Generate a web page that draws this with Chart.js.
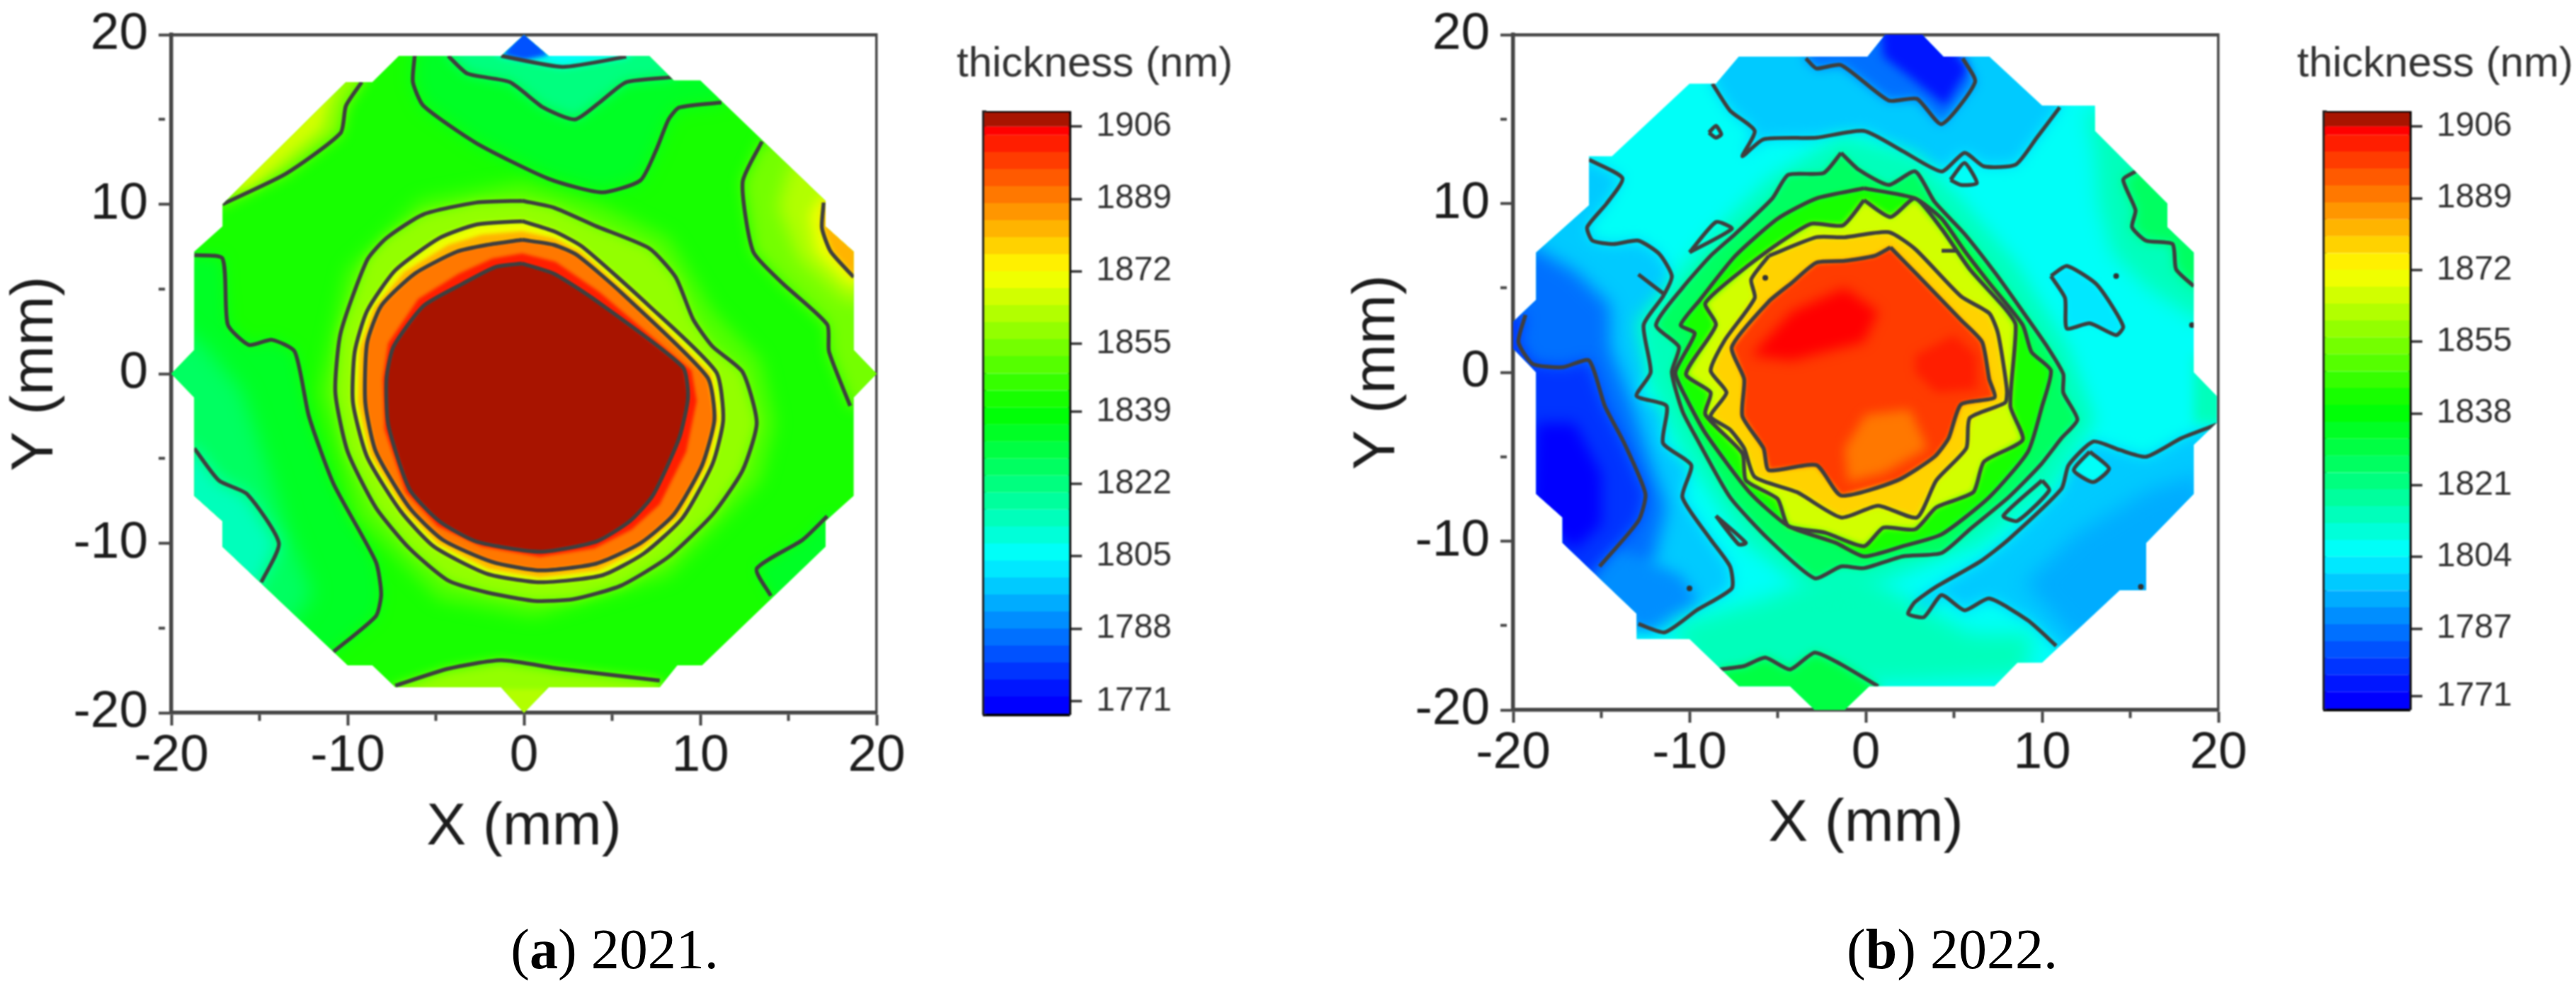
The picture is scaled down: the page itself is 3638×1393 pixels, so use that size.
<!DOCTYPE html>
<html>
<head>
<meta charset="utf-8">
<title>Film thickness maps 2021 and 2022</title>
<script src="https://cdn.jsdelivr.net/npm/chart.js@4/dist/chart.umd.min.js"></script>
<style>
    html, body { margin: 0; padding: 0; background: #fff; overflow: hidden; width: 3638px; height: 1393px; }
    canvas { position: absolute; filter: blur(1px); }
    .caption { position: absolute; top: 1296px; font: 80px "Liberation Serif", serif; color: #000; white-space: nowrap; transform: translateX(-50%); filter: blur(0.4px); }
</style>
</head>
<body>
<canvas id="mapA" width="1300" height="1240" style="left:0;top:0"></canvas>
<canvas id="barA" width="412" height="970" style="left:1340px;top:50px"></canvas>
<canvas id="mapB" width="1300" height="1240" style="left:1895px;top:0"></canvas>
<canvas id="barB" width="412" height="963" style="left:3233px;top:50px"></canvas>
<div class="caption" style="left:868px">(<b>a</b>) 2021.</div>
<div class="caption" style="left:2757px">(<b>b</b>) 2022.</div>

<script>
// colour scale
const levelFloors = [1768, 1772, 1776, 1780, 1784, 1788, 1792, 1796, 1800, 1804, 1808, 1812, 1816, 1820, 1824, 1828, 1832, 1836,
    1840, 1844, 1848, 1852, 1856, 1860, 1864, 1868, 1872, 1876, 1880, 1884, 1888, 1892, 1896, 1900, 1904, 1906];
const levelColors = ['#0000ff', '#0016ff', '#0034ff', '#0052ff', '#0070ff', '#008eff', '#00acff', '#00caff', '#00e8ff', '#00fff8',
    '#00ffd9', '#00ffbb', '#00ff9d', '#00ff7f', '#00ff61', '#00ff43', '#00ff25', '#00ff07',
    '#17ff00', '#36ff00', '#55ff00', '#74ff00', '#93ff00', '#b2ff00', '#d1ff00', '#f0ff00',
    '#fff000', '#ffd200', '#ffb400', '#ff9600', '#ff7800', '#ff5a00', '#ff3c00', '#ff1e00', '#ff0000', '#a81400'];
const levelTop = 1910;
const ticksA = [1771, 1788, 1805, 1822, 1839, 1855, 1872, 1889, 1906];
const ticksB = [1771, 1787, 1804, 1821, 1838, 1855, 1872, 1889, 1906];

// 2021 map, everything in mm
const aOutline = [[0,20],[-1.3,18.75],[-7.1,18.75],[-8.6,17.2],[-10.1,17.2],[-17.1,10],[-17.1,8.7],[-18.7,7.2],[-18.7,1.4],[-20,0],[-18.7,-1.4],[-18.7,-7.2],[-17.1,-8.7],[-17.1,-10.2],[-10,-17.2],[-8.6,-17.2],[-7.3,-18.5],[-1.3,-18.5],[0,-20],[1.4,-18.5],[7.7,-18.5],[8.7,-17.2],[10.1,-17.2],[17.1,-10.2],[17.1,-8.7],[18.7,-7.2],[18.7,-1.4],[20,0],[18.7,1.4],[18.7,7.2],[17.1,8.7],[17.1,10.2],[10,17.3],[8.5,17.3],[7.1,18.75],[1.4,18.75]];
const aTopLine1 = [[-6.2,18.75],[-6.3,17.2],[-5.7,15.8],[-2.7,13.6],[1.4,11.5],[4.4,10.7],[6.6,11.4],[7.5,13.2],[8.2,15],[8.8,15.7],[11.2,16]];
const aTopLine2 = [[-4.3,18.75],[-3.2,17.7],[-0.8,17.2],[1.1,15.7],[2.9,15],[4.4,16.1],[5.8,17.2],[8.5,17.5]];
const aTopLine3 = [[-1.3,18.75],[2.2,18.1],[5.8,18.7]];
const aTopTip = [[-1.2,18.8],[0,20.6],[1.4,18.8],[0,18.5]];
const aLowerLeftLine = [[-18.7,-4.4],[-17.3,-6.3],[-15.7,-7.1],[-13.9,-10],[-14.9,-12.3]];
const aLeftLine = [[-18.7,7],[-17.1,6.8],[-16.8,2.9],[-15.6,1.7],[-14.3,2],[-13,1.3],[-12.2,-2.5],[-10.8,-6.5],[-8.4,-11.1],[-8.1,-13],[-8.4,-14.3],[-10.8,-16.4]];
const aLeftDeep = [[-21,4],[-18,1.5],[-16,-1],[-15,-4],[-13.5,-9],[-12,-13],[-14,-16],[-21,-10]];
const aUpperLeftLine = [[-17.1,10],[-13.5,11.8],[-10.4,14.2],[-10.1,15.8],[-9.2,17.2]];
const aUpperLeftEdge = [[-18,10.5],[-15.5,11],[-11.5,14.5],[-10.5,18],[-12,18]];
const aRightLine1 = [[13.5,13.7],[12.4,11.3],[13,7.2],[14.7,5.3],[17.2,2.9],[17.3,1.3],[18.5,-1.9]];
const aRightInner = [[15.2,12.5],[14.4,9.9],[15.6,6.8],[18.3,4.3],[22,4.3],[22,12.5]];
const aRightEdge = [[16.9,10.5],[16.2,9.4],[16.6,7.2],[18.4,5.3],[22,5.3],[22,10.5]];
const aRightLine2 = [[17,10.1],[16.9,8.6],[17.4,7.2],[18.7,5.7]];
const aBottomLine = [[-7.3,-18.4],[-4.3,-17.4],[-1.3,-16.9],[2,-17.4],[7.7,-18.1]];
const aBottomTip = [[-1.3,-18.6],[1.3,-18.6],[0,-21]];
const aLowerRightLine = [[17.2,-8.4],[15.8,-9.8],[13.2,-11.5],[14,-13.1]];
const aHalo = [[-0.1,11.3],[4.4,9.9],[8.2,8],[10.7,3.7],[13.4,0.8],[14.2,-2.9],[13.4,-6.3],[8.2,-11.9],[0.6,-14.3],[-4.8,-13.3],[-9.5,-8.4],[-11.6,-1.1],[-10,6.1],[-5.9,10.2]];
const aRing1 = [[-0.1,10.2],[1.7,9.8],[4.1,8.7],[7.1,7.4],[8.6,5.7],[9.6,3.2],[10.7,1.6],[12.4,0.1],[13.2,-2.9],[12.4,-5.7],[10.7,-8.3],[8.2,-10.8],[5.5,-12.5],[2.8,-13.3],[0.6,-13.4],[-2.1,-12.9],[-4.3,-12.2],[-6.5,-10.3],[-8.4,-7.9],[-10,-4.6],[-10.7,-1.1],[-10.4,2.4],[-8.9,6.7],[-7.8,8],[-5.7,9.4],[-2.7,10.1]];
const aRing2 = [[-0.1,9],[1.7,8.4],[3.3,7.5],[7.1,4],[10.9,0.1],[11.3,-2.7],[10.7,-5.3],[9,-8.5],[6.8,-10.6],[4.4,-11.9],[0.9,-12.3],[-2.1,-11.8],[-5.1,-10.2],[-7,-8.1],[-8.9,-4.9],[-9.7,-1.7],[-9.6,1.3],[-8.9,3.7],[-7.3,6.1],[-4.8,8],[-2.7,8.8]];
const aOrangeBand = [[-0.1,8.4],[1.7,8],[3.2,7.2],[6.3,4.4],[10.6,0],[11,-2.7],[10.4,-5.3],[8.8,-8.4],[6.7,-10.3],[4.2,-11.6],[0.9,-12],[-2,-11.5],[-4.9,-10],[-6.8,-8],[-8.7,-4.8],[-9.4,-1.7],[-9.3,1.5],[-8.5,3.9],[-6.8,6],[-4.3,7.6],[-2.4,8.2]];
const aRing3 = [[-0.1,7.9],[1.7,7.6],[3,7],[5.5,4.8],[10.4,-0.2],[10.8,-2.7],[10.1,-5.4],[8.5,-8.3],[6.6,-10],[4.1,-11.2],[0.9,-11.6],[-1.8,-11.1],[-4.6,-9.8],[-6.5,-7.9],[-8.4,-4.6],[-9,-1.7],[-8.9,1.8],[-8.1,4],[-6.2,5.9],[-3.8,7.2],[-2.1,7.6]];
const aRedBand = [[-0.1,7.1],[1.8,6.6],[4.3,4.8],[9.5,0.2],[9.8,-1.6],[9.2,-4.6],[7.7,-7.7],[6.1,-9.2],[4,-10.3],[0.9,-10.8],[-2.4,-10.2],[-4.9,-9],[-6.7,-7],[-7.9,-3.3],[-8,-0.3],[-7.7,1.8],[-6,4.4],[-3.7,5.9],[-1.8,6.8]];
const aCore = [[-0.1,6.5],[1.7,5.9],[4.1,4.3],[9,0.4],[9.3,-1.4],[8.8,-3.8],[7.3,-7.2],[6,-8.7],[4.1,-9.9],[0.9,-10.5],[-2.7,-9.9],[-4.8,-8.7],[-6.5,-6.8],[-7.7,-3],[-7.8,-0.3],[-7.4,1.6],[-5.7,4],[-3.5,5.3],[-1.6,6.3]];

// 2022 map, everything in mm
const bOutline = [[1.1,20],[3.2,20],[4.4,18.7],[7,18.7],[10,15.8],[13,15.8],[13,14.3],[17.1,10],[17.1,8.6],[18.6,7.1],[18.6,0],[19.9,-1.4],[19.9,-3],[18.6,-4.3],[18.6,-7.2],[15.9,-10.1],[15.9,-12.9],[14.4,-12.9],[10,-17.2],[8.6,-17.2],[7.3,-18.6],[0.2,-18.6],[-1.2,-20],[-2.9,-20],[-4.3,-18.6],[-7.2,-18.6],[-10,-15.8],[-13,-15.8],[-13,-14.3],[-17.2,-10.1],[-17.2,-8.6],[-18.7,-7.2],[-18.7,0],[-20,1.4],[-20,3],[-18.7,4.3],[-18.7,7.1],[-15.7,9.9],[-15.7,12.8],[-14.4,12.8],[-10,17.1],[-8.5,17.1],[-7.2,18.7],[0.1,18.7]];
const bTopLine = [[-8.7,17.1],[-7.7,15.5],[-6.3,14.3],[-7,12.8],[-5.8,13.8],[-2.8,13.9],[-0.1,14.3],[2.1,13.1],[4.3,11.9],[5.6,13],[6.7,12.2],[8.5,12.3],[9.7,13.9],[11,15.7]];
const bTopInnerLine = [[-3.4,18.6],[-2.8,18],[-1.4,18.2],[1.3,16.1],[2.9,16.2],[4.3,14.7],[6.2,17.2],[5.5,18.6]];
const bTopCore = [[0.8,21],[3.5,21],[5.8,18],[4.5,15.8],[2.5,17.5],[1,18.7]];
const bLeftLine = [[-15.7,12.6],[-13.8,11.5],[-14.7,10],[-15.8,8.6],[-15.5,7.8],[-14.3,7.6],[-12.9,7.8],[-11.7,7],[-11,5.7],[-11.5,4.5],[-12.6,2.8],[-12.2,0],[-13,-1.4],[-11.3,-2],[-11.5,-4.2],[-9.9,-5.5],[-10.4,-7.4],[-8.8,-9.9],[-7.7,-11.5],[-7.6,-12.8],[-9.6,-14.1],[-11.4,-15.4],[-12.9,-14.9]];
const bLeftMid = [[-19,7.5],[-16.5,6],[-14.5,4],[-14.5,1.5],[-13.2,-2],[-12.3,-5],[-11.3,-8],[-12,-11],[-14,-13.5],[-16,-13],[-22,-8],[-22,7]];
const bLowerLeft = [[-15,-10],[-10.5,-12],[-9.5,-13.5],[-12.5,-15.5],[-15,-14],[-18,-10]];
const bLeftInnerLine = [[-19.3,3.4],[-19.7,1.8],[-18.9,0.5],[-17.2,0.3],[-15.7,0.7],[-14.8,-2],[-13.7,-4.2],[-12.5,-7.2],[-12.9,-8.8],[-15.1,-11.5]];
const bLeftCore = [[-18.7,-3],[-16.5,-3],[-15,-6],[-15,-9],[-16.5,-10.5],[-19,-8.5]];
const bRightLowLine = [[19.9,-3.1],[17.9,-3.9],[15.9,-5],[14.4,-4.6],[12.9,-4.1],[11.5,-5.5],[11.1,-6.9],[8.1,-9.9],[6.5,-11.2],[4,-12.7],[2.8,-13.6],[2.4,-14.3],[3.3,-14.5],[4.3,-13.2],[5.6,-14.1],[7,-13.4],[9.2,-14.7],[10.8,-16.2]];
const bRightLowMid = [[9,-12.5],[12,-9.5],[16,-7],[19,-6],[19,-10],[16,-14],[12,-16]];
const bPocket = [[12.7,-4.7],[13.8,-5.7],[12.9,-6.5],[11.8,-5.8]];
const bUpperRightHalo = [[12.5,15.5],[13,13],[13.2,10],[14,7],[16,5],[19,3],[22,3],[22,15]];
const bUpperRightLine = [[15.3,11.9],[14.6,11.4],[15.3,9.6],[15.1,8.6],[15.9,7.8],[17.4,7.6],[17.6,6.1],[18.6,5.1]];
const bRightTip = [[18.6,1],[22,1],[22,-3.2],[18.6,-3]];
const bIsland = [[10.5,5.7],[11.4,6.3],[13,5.3],[13.8,4.2],[14.6,2.7],[14.2,2.2],[12.7,2.9],[11.4,2.6],[11.3,4.4]];
const bBottomHalo = [[-11,-15],[-6,-13.5],[-1,-11.5],[3,-13.8],[6,-15.5],[9.5,-15.5],[9,-18],[-9,-19]];
const bBottomLine = [[-8.3,-17.6],[-6.9,-17.4],[-5.7,-16.9],[-4.3,-17.6],[-2.9,-16.6],[-1.4,-17.3],[0.7,-18.6]];
const bHalo = [[-1.4,14],[2.8,12.9],[5.2,10.5],[8.5,6.5],[11.5,1.5],[13,-2.8],[10.5,-7],[6.5,-10.2],[-0.1,-12.8],[-3,-13.2],[-7,-10],[-10.5,-4.5],[-12.3,-0.5],[-13,3],[-9,8],[-5.5,11.5]];
const bRing1 = [[-1.4,13],[-0.4,12],[1.3,11.1],[2.8,11.9],[3.9,10.1],[5.6,8.2],[7.4,5.8],[8.9,3.6],[10.3,1.5],[11.2,-0.1],[11.2,-1.2],[12,-2.8],[11.1,-3.9],[9.9,-5.5],[8.1,-7.4],[5.9,-9.3],[4.3,-10.7],[2.1,-10.9],[-0.1,-11.6],[-1.4,-11.5],[-2.9,-12.2],[-5.5,-9.9],[-7.7,-7.4],[-9.6,-3.9],[-10.4,-2.3],[-11,0],[-10.6,1.5],[-11.9,2.8],[-10.4,5],[-8.8,6.9],[-7.4,8.2],[-5.3,10.3],[-4.4,11.7],[-2.4,11.8]];
const bRing2 = [[-0.1,10.9],[2.8,10.3],[4.3,9.1],[5.6,7.2],[7,5.3],[8.9,2.8],[9.4,1.2],[10.5,0.1],[10,-2],[9.2,-4.7],[7,-7.4],[4.3,-9.6],[2.1,-10.3],[-0.1,-10.9],[-1.7,-10.1],[-4.4,-9.1],[-6.6,-7.1],[-9.1,-3.6],[-10.2,-1.5],[-10.8,0],[-9.7,2.3],[-10.5,2.8],[-9.4,4.3],[-7.4,6.9],[-5,9.1],[-2.8,10.3]];
const bRing3 = [[-0.1,10.2],[1.4,9.2],[2.8,10.3],[4.3,8.5],[5.9,6.1],[7.8,3.9],[8.5,2.8],[8.2,-2],[8.9,-4],[6.7,-5.3],[6.1,-7.1],[4,-8],[2.8,-9.3],[1,-9.2],[-0.1,-10.3],[-2.3,-9.5],[-4.4,-9.1],[-5,-7.5],[-6.8,-6.4],[-7,-4.8],[-9.1,-2.5],[-8.8,-1.2],[-10.2,-0.1],[-8.5,2.8],[-9.1,4.1],[-6.7,6.3],[-5,7.6],[-3.1,8.8],[-1.3,8.7]];
const bRing4 = [[-5.5,6.9],[-2.8,8],[-1.2,8],[1.3,8.3],[2.8,7.3],[5.4,4.5],[7,3.5],[7.5,2.3],[8,-1],[7.9,-1.8],[5.9,-2.7],[5.7,-4.5],[4,-6.4],[2.9,-8.6],[0.7,-7.9],[-1.4,-8.6],[-3.9,-7.1],[-6.3,-6.2],[-6.9,-4.5],[-7.7,-3.4],[-8.8,-2.6],[-7.9,-1.2],[-8.8,0.1],[-8,1.9],[-6.3,4.4],[-6.5,5.5]];
const bRing5 = [[1.4,7.4],[2.9,5.8],[5.4,3.1],[6.6,1.8],[7,-0.4],[7.3,-1.5],[5.4,-1.9],[4.7,-3.9],[3.9,-5],[1.8,-6.4],[-1.4,-7.3],[-2.8,-5.5],[-5.5,-5.8],[-5.8,-4.5],[-7,-2.6],[-6.9,-0.4],[-7.6,1.5],[-5.5,4.2],[-4.2,5.3],[-2.8,6.5],[-1.2,6.6],[0.5,6.9]];
const bRedPatch1 = [[-4.2,3.6],[-1.2,5],[0.7,3.6],[-0.1,1.8],[-4.2,0.7],[-6.5,1]];
const bRedPatch2 = [[2.8,1],[5,2.2],[6.3,1],[6.3,-1],[4,-1.2],[2.8,0]];
const bOrangePatch = [[0,-2.5],[2.5,-2.2],[3.5,-4.5],[1,-6],[-1,-6.5],[-1.2,-4.5]];
const bDiamond = [[-8.9,14.2],[-8.5,14.6],[-8.2,14.1],[-8.5,13.9]];
const bTriangle = [[4.8,11.4],[5.6,12.4],[6.3,11.2],[5.4,11.1]];
const bSliver1 = [[-10,7.1],[-8.5,8.9],[-7.6,8.5]];
const bSliver2 = [[-12.9,5.8],[-11.4,4.6]];
const bSliver3 = [[4.3,7.2],[5.1,7.2]];
const bSliver4 = [[-8.5,-8.5],[-6.8,-10.1],[-7.2,-10.2]];
const bSliver5 = [[10,-6.4],[10.4,-7],[8.6,-8.8],[7.8,-8.5]];
const bDots = [[-5.7,5.6],[14.2,5.7],[-10,-12.8],[15.6,-12.7],[18.5,2.8]];

const axisTicks = [-20, -15, -10, -5, 0, 5, 10, 15, 20];
const everything = [[-25,-25],[25,-25],[25,25],[-25,25]];

function colorFor(nm) {
    let color = levelColors[0];
    levelFloors.forEach((floor, i) => { if (nm >= floor) color = levelColors[i]; });
    return color;
}

function toXY(pairs) {
    return pairs.map(p => ({ x: p[0], y: p[1] }));
}

function band(pairs, nm, blur) {
    return { data: toXY(pairs), showLine: true, fill: 'shape', backgroundColor: colorFor(nm), borderWidth: 0, pointRadius: 0, blur: blur };
}

function contour(pairs, closed) {
    const pts = closed ? pairs.concat([pairs[0]]) : pairs;
    return { data: toXY(pts), showLine: true, fill: false, borderColor: '#3f3f3f', borderWidth: 5.5, pointRadius: 0, tension: 0.2, blur: 0 };
}

// fills get blurred one by one and cut to the wafer outline, contour lines stay sharp
function waferPlugin(outline) {
    const blurOf = ds => ds && ds.blur ? `blur(${ds.blur}px)` : 'none';
    return {
        id: 'wafer',
        beforeDatasetsDraw(chart) {
            const ctx = chart.ctx, xs = chart.scales.x, ys = chart.scales.y;
            ctx.save();
            ctx.beginPath();
            outline.forEach((p, i) => {
                const px = xs.getPixelForValue(p[0]), py = ys.getPixelForValue(p[1]);
                if (i === 0) ctx.moveTo(px, py); else ctx.lineTo(px, py);
            });
            ctx.closePath();
            ctx.clip();
            ctx.filter = blurOf(chart.data.datasets[0]);
        },
        beforeDatasetDraw(chart) {
            chart.ctx.filter = 'none';
        },
        afterDatasetDraw(chart, args) {
            chart.ctx.filter = blurOf(chart.data.datasets[args.index + 1]);
        },
        afterDatasetsDraw(chart) {
            chart.ctx.restore();
        }
    };
}

function noOverhang(s) {
    s.paddingTop = 0;
    s.paddingBottom = 0;
    s.paddingLeft = 0;
    s.paddingRight = 0;
}

function frameAxis(position, width, fitSize) {
    const horizontal = position === 'top' || position === 'bottom';
    return {
        type: 'linear', position: position, min: 0, max: 1,
        grid: { drawOnChartArea: false, drawTicks: false },
        ticks: { display: false },
        border: { color: '#454545', width: width },
        afterFit: s => {
            if (horizontal) s.height = fitSize || 0; else s.width = fitSize || 0;
            noOverhang(s);
        }
    };
}

function mainAxis(position, label, fitSize, titlePadding, tickPadding) {
    const horizontal = position === 'bottom';
    return {
        type: 'linear', position: position, min: -20, max: 20,
        afterBuildTicks: s => { s.ticks = axisTicks.map(v => ({ value: v })); },
        title: { display: true, text: label, color: '#1c1c1c', padding: titlePadding, font: { family: '"Liberation Sans"', size: 84 } },
        ticks: {
            autoSkip: false, maxRotation: 0, padding: tickPadding, color: '#1c1c1c',
            font: { family: '"Liberation Sans"', size: 73 },
            callback: v => (v % 10 === 0 ? String(v) : '')
        },
        grid: {
            drawOnChartArea: false, tickLength: 18, tickWidth: 4, tickColor: '#454545',
            tickBorderDash: c => (c.tick && c.tick.value % 10 !== 0 ? [9, 100] : [])
        },
        border: { color: '#454545', width: 5.5 },
        afterFit: s => {
            if (horizontal) s.height = fitSize; else s.width = fitSize;
            noOverhang(s);
        }
    };
}

function drawMap(id, layers, outline, bottomFit, xTitleBottom) {
    layers.forEach((ds, i) => { ds.order = -i; });
    new Chart(document.getElementById(id), {
        type: 'scatter',
        data: { datasets: layers },
        options: {
            responsive: false, animation: false, events: [],
            layout: { padding: { top: 49, right: 62, left: 0, bottom: 0 } },
            plugins: { legend: { display: false }, tooltip: { enabled: false } },
            scales: {
                x: mainAxis('bottom', 'X (mm)', bottomFit, { top: 0, bottom: xTitleBottom }, 0),
                y: mainAxis('left', 'Y (mm)', 242, { top: 0, bottom: 11 }, 15),
                xTop: frameAxis('top', 4.5),
                yRight: frameAxis('right', 3.5)
            }
        },
        plugins: [waferPlugin(outline)]
    });
}

function drawColorBar(id, tickValues, yMin, yMax) {
    const datasets = levelFloors.map((floor, i) => ({
        data: [[floor, i + 1 < levelFloors.length ? levelFloors[i + 1] : levelTop]],
        backgroundColor: levelColors[i], borderColor: levelColors[i], borderWidth: 1,
        grouped: false, barPercentage: 1, categoryPercentage: 1
    }));
    new Chart(document.getElementById(id), {
        type: 'bar',
        data: { labels: ['thickness'], datasets: datasets },
        options: {
            responsive: false, animation: false, events: [],
            layout: { padding: { bottom: 11 } },
            plugins: {
                legend: { display: false }, tooltip: { enabled: false },
                title: { display: true, text: 'thickness (nm)', color: '#333', padding: { top: 5, bottom: 32 }, font: { family: '"Liberation Sans"', size: 60, weight: 'normal' } }
            },
            scales: {
                x: {
                    position: 'bottom', grid: { display: false }, ticks: { display: false },
                    border: { color: '#000', width: 5 }, afterFit: s => { s.height = 0; noOverhang(s); }
                },
                y: {
                    position: 'right', min: yMin, max: yMax,
                    afterBuildTicks: s => { s.ticks = tickValues.map(v => ({ value: v })); },
                    ticks: { padding: 20, color: '#333', font: { family: '"Liberation Sans"', size: 48 }, callback: v => String(v) },
                    grid: { drawOnChartArea: false, tickLength: 18, tickWidth: 3.5, tickColor: '#333' },
                    border: { color: '#111', width: 5 },
                    afterFit: s => { s.width = 242; noOverhang(s); }
                },
                xTop: Object.assign(frameAxis('top', 5), { border: { color: '#000', width: 5 } }),
                yLeft: Object.assign(frameAxis('left', 6, 50), { border: { color: '#222', width: 6 } })
            }
        }
    });
}

const layersA = [
    band(everything, 1843, 10),
    band(aTopLine1.concat([[13.6,18],[8.2,19.6],[-6.2,19.6]]), 1832, 12),
    band(aTopLine2.concat([[9.6,19.6],[-4.3,19.6]]), 1821, 9),
    band(aTopLine3.concat([[7,20],[-3,20]]), 1807, 6),
    band(aTopTip, 1780, 3),
    band(aLeftLine.concat([[-13,-18],[-21,-12],[-21,7]]), 1834, 10),
    band(aLeftDeep, 1827, 14),
    band(aLowerLeftLine.concat([[-16,-14],[-21,-10],[-21,-4.4]]), 1812, 12),
    band(aUpperLeftLine.concat([[-8,20],[-20,20],[-20,10]]), 1856, 10),
    band(aUpperLeftEdge, 1866, 8),
    band(aRightLine1.concat([[22,-2],[22,14]]), 1854, 10),
    band(aRightInner, 1861, 12),
    band(aRightEdge, 1870, 9),
    band(aRightLine2.concat([[22,5.7],[22,10.1]]), 1880, 4),
    band(aBottomLine.concat([[9,-21],[-9,-21]]), 1856, 8),
    band(aBottomTip, 1862, 3),
    band(aLowerRightLine.concat([[17,-15],[21,-9]]), 1832, 8),
    band(aHalo, 1849, 12),
    band(aRing1, 1858, 8),
    band(aRing2, 1870, 4),
    band(aOrangeBand, 1880, 2.5),
    band(aRing3, 1888, 2),
    band(aRedBand, 1900, 2),
    band(aCore, 1907, 1.5),
    contour(aTopLine1), contour(aTopLine2), contour(aTopLine3), contour(aLowerLeftLine), contour(aLeftLine),
    contour(aUpperLeftLine), contour(aRightLine1), contour(aRightLine2), contour(aBottomLine), contour(aLowerRightLine),
    contour(aRing1, true), contour(aRing2, true), contour(aRing3, true), contour(aCore, true)
];

const layersB = [
    band(everything, 1805, 10),
    band(bTopLine.concat([[12,21],[-9,21]]), 1796, 10),
    band(bTopInnerLine.concat([[5.5,21],[-3.4,21]]), 1784, 8),
    band(bTopCore, 1773, 7),
    band(bLeftLine.concat([[-14,-17],[-22,-10],[-22,13]]), 1799, 10),
    band(bLeftMid, 1786, 12),
    band(bLowerLeft, 1790, 10),
    band(bLeftInnerLine.concat([[-17,-14],[-22,-10],[-22,3.4]]), 1778, 10),
    band(bLeftCore, 1771, 10),
    band(bRightLowLine.concat([[13,-19],[23,-10],[23,-3.1]]), 1798, 10),
    band(bRightLowMid, 1793, 14),
    band(bPocket, 1806, 2),
    band(bUpperRightHalo, 1813, 14),
    band(bUpperRightLine.concat([[22,5.1],[22,12],[16,13]]), 1826, 8),
    band(bRightTip, 1813, 8),
    band(bIsland, 1800, 5),
    band(bBottomHalo, 1814, 14),
    band(bBottomLine.concat([[1,-21],[-8,-21]]), 1828, 7),
    band(bHalo, 1812, 12),
    band(bRing1, 1826, 5),
    band(bRing2, 1840, 4),
    band(bRing3, 1866, 4),
    band(bRing4, 1879, 4),
    band(bRing5, 1896, 3),
    band(bOrangePatch, 1891, 8),
    band(bRedPatch1, 1904, 9),
    band(bRedPatch2, 1902, 7),
    contour(bTopLine), contour(bTopInnerLine), contour(bLeftLine), contour(bLeftInnerLine), contour(bRightLowLine),
    contour(bUpperRightLine), contour(bBottomLine), contour(bIsland, true), contour(bPocket, true),
    contour(bRing1, true), contour(bRing2, true), contour(bRing3, true), contour(bRing4, true), contour(bRing5, true),
    contour(bDiamond, true), contour(bTriangle, true), contour(bSliver1, true), contour(bSliver2), contour(bSliver3),
    contour(bSliver4, true), contour(bSliver5, true),
    { data: toXY(bDots), showLine: false, pointRadius: 4, pointBackgroundColor: '#333', pointBorderWidth: 0, blur: 0 }
];

drawMap('mapA', layersA, aOutline, 233, 20);
drawMap('mapB', layersB, bOutline, 237, 25);
drawColorBar('barA', ticksA, 1767.9, 1909.3);
drawColorBar('barB', ticksB, 1767.9, 1909.3);
</script>
</body>
</html>
